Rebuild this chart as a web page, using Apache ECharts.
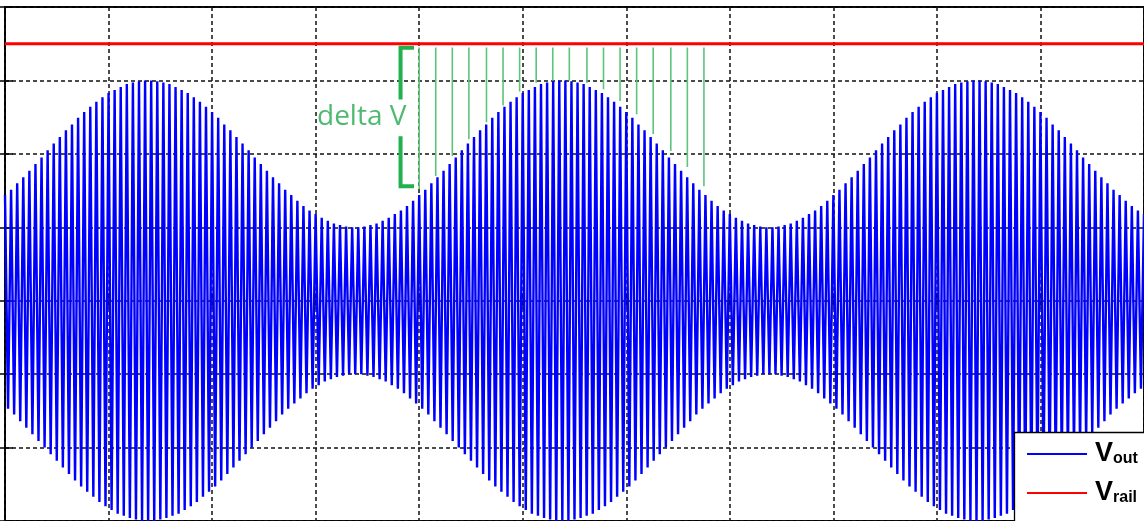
<!DOCTYPE html>
<html>
<head>
<meta charset="utf-8">
<script src="https://cdn.jsdelivr.net/npm/echarts@6/dist/echarts.min.js"></script>
<style>
html,body{margin:0;padding:0;background:#fff;}
#main{width:1144px;height:521px;}
</style>
</head>
<body>
<div id="main"></div>
<script>
// 采样步长 (横轴: 格)
var DT = 4 / 136;
// Vout 采样点 (纵轴: 格), 正负交替
var vout = [
 1.44,-1.47,1.51,-1.55,1.60,-1.64,1.68,-1.73,1.77,-1.82,1.86,-1.91,1.95,-2.00,2.05,-2.09,2.14,-2.18,2.23,-2.27,
 2.32,-2.36,2.40,-2.45,2.49,-2.53,2.57,-2.60,2.64,-2.67,2.71,-2.74,2.77,-2.80,2.83,-2.85,2.87,-2.90,2.91,-2.93,
 2.95,-2.96,2.97,-2.98,2.99,-3.00,3.00,-3.00,
 // 第1段
 3.00,-3.00,2.99,-2.98,2.97,-2.96,2.95,-2.93,2.91,-2.90,2.87,-2.85,2.83,-2.80,2.77,-2.74,2.71,-2.67,2.64,-2.60,
 2.57,-2.53,2.49,-2.45,2.40,-2.36,2.32,-2.27,2.23,-2.18,2.14,-2.09,2.05,-2.00,1.95,-1.91,1.86,-1.82,1.77,-1.73,
 1.68,-1.64,1.60,-1.55,1.51,-1.47,1.44,-1.40,1.36,-1.33,1.29,-1.26,1.23,-1.20,1.18,-1.15,1.13,-1.10,1.09,-1.07,
 1.05,-1.04,1.03,-1.02,1.01,-1.00,1.00,-1.00,
 1.00,-1.00,1.01,-1.02,1.03,-1.04,1.05,-1.07,1.09,-1.10,1.13,-1.15,1.18,-1.20,1.23,-1.26,1.29,-1.33,1.36,-1.40,
 1.44,-1.47,1.51,-1.55,1.60,-1.64,1.68,-1.73,1.77,-1.82,1.86,-1.91,1.95,-2.00,2.05,-2.09,2.14,-2.18,2.23,-2.27,
 2.32,-2.36,2.40,-2.45,2.49,-2.53,2.57,-2.60,2.64,-2.67,2.71,-2.74,2.77,-2.80,2.83,-2.85,2.87,-2.90,2.91,-2.93,
 2.95,-2.96,2.97,-2.98,2.99,-3.00,3.00,-3.00,
 // 第2段
 3.00,-3.00,2.99,-2.98,2.97,-2.96,2.95,-2.93,2.91,-2.90,2.87,-2.85,2.83,-2.80,2.77,-2.74,2.71,-2.67,2.64,-2.60,
 2.57,-2.53,2.49,-2.45,2.40,-2.36,2.32,-2.27,2.23,-2.18,2.14,-2.09,2.05,-2.00,1.95,-1.91,1.86,-1.82,1.77,-1.73,
 1.68,-1.64,1.60,-1.55,1.51,-1.47,1.44,-1.40,1.36,-1.33,1.29,-1.26,1.23,-1.20,1.18,-1.15,1.13,-1.10,1.09,-1.07,
 1.05,-1.04,1.03,-1.02,1.01,-1.00,1.00,-1.00,
 1.00,-1.00,1.01,-1.02,1.03,-1.04,1.05,-1.07,1.09,-1.10,1.13,-1.15,1.18,-1.20,1.23,-1.26,1.29,-1.33,1.36,-1.40,
 1.44,-1.47,1.51,-1.55,1.60,-1.64,1.68,-1.73,1.77,-1.82,1.86,-1.91,1.95,-2.00,2.05,-2.09,2.14,-2.18,2.23,-2.27,
 2.32,-2.36,2.40,-2.45,2.49,-2.53,2.57,-2.60,2.64,-2.67,2.71,-2.74,2.77,-2.80,2.83,-2.85,2.87,-2.90,2.91,-2.93,
 2.95,-2.96,2.97,-2.98,2.99,-3.00,3.00,-3.00,
 // 第3段
 3.00,-3.00,2.99,-2.98,2.97,-2.96,2.95,-2.93,2.91,-2.90,2.87,-2.85,2.83,-2.80,2.77,-2.74,2.71,-2.67,2.64,-2.60,
 2.57,-2.53,2.49,-2.45,2.40,-2.36,2.32,-2.27,2.23,-2.18,2.14,-2.09,2.05,-2.00,1.95,-1.91,1.86,-1.82,1.77,-1.73,
 1.68,-1.64,1.60,-1.55,1.51,-1.47,1.44,-1.40,1.36,-1.33,1.29,-1.26,1.23,-1.20,1.18
];
// 电源轨
var vrail = 3.5;
// 绿色 delta V 竖线
var greenX = [4.00,4.16,4.32,4.48,4.65,4.81,4.97,5.13,5.29,5.45,5.62,5.78,5.94,6.10,6.26,6.43,6.59,6.75];
var greenBot = [1.52,1.70,1.97,2.20,2.43,2.66,2.85,2.97,3.00,3.00,2.97,2.88,2.72,2.54,2.27,2.04,1.82,1.56];
var greenTop = 3.45;
// 括号
var bracket = [[3.95,3.445],[3.82,3.445],[3.82,2.74],[3.82,'-'],[3.82,2.24],[3.82,1.56],[3.95,1.56]];
var labelPos = [3.445, 2.5];

var X_MIN = 0, X_MAX = 11, Y_MIN = -3, Y_MAX = 4;

function buildVout(){
	var arr = [];
	for(var i=0;i<vout.length;i++){
		arr.push([i*DT, vout[i]]);
	}
	return arr;
}
function buildGreen(){
	var arr = [];
	for(var i=0;i<greenX.length;i++){
		arr.push([greenX[i], greenTop]);
		arr.push([greenX[i], greenBot[i]]);
		arr.push([greenX[i], '-']);
	}
	return arr;
}

var myChart = echarts.init(document.getElementById('main'));
var tickStyle = {show:true, inside:true, length:8, lineStyle:{color:'#000', width:1.5}};
var gridLine = {show:true, lineStyle:{color:'#111', width:1.5, type:[4,3]}};
var option = {
	animation:false,
	backgroundColor:'#fff',
	grid:{
		left:5, top:7, width:1146.2, height:516.6,
		show:true, borderColor:'#000', borderWidth:2, backgroundColor:'#fff'
	},
	xAxis:[
		{type:'value', min:X_MIN, max:X_MAX, interval:1, position:'bottom',
		 axisLine:{show:false}, axisTick:tickStyle, axisLabel:{show:false}, splitLine:gridLine},
		{type:'value', min:X_MIN, max:X_MAX, interval:1, position:'top',
		 axisLine:{show:false}, axisTick:tickStyle, axisLabel:{show:false}, splitLine:{show:false}}
	],
	yAxis:[
		{type:'value', min:Y_MIN, max:Y_MAX, interval:1, position:'left',
		 axisLine:{show:false}, axisTick:tickStyle, axisLabel:{show:false}, splitLine:gridLine},
		{type:'value', min:Y_MIN, max:Y_MAX, interval:1, position:'right',
		 axisLine:{show:false}, axisTick:tickStyle, axisLabel:{show:false}, splitLine:{show:false}}
	],
	// 图例外框
	graphic:[{
		type:'rect', z:10, silent:true,
		shape:{x:1014.5, y:432.5, width:140, height:100},
		style:{fill:'#fff', stroke:'#000', lineWidth:1.3}
	}],
	legend:{
		data:['Vout','Vrail'],
		orient:'vertical',
		left:1014, top:433, z:20,
		padding:[7,10,4,12],
		itemGap:12,
		itemWidth:60, itemHeight:14,
		itemStyle:{opacity:0},
		formatter:function(name){
			return name === 'Vout' ? '{v|V}{s|out}' : '{v|V}{s|rail}';
		},
		textStyle:{
			rich:{
				v:{fontFamily:'Liberation Sans, Arial', fontSize:27, fontWeight:'bold', color:'#000', lineHeight:26, verticalAlign:'bottom', padding:[0,0,0,3]},
				s:{fontFamily:'Liberation Sans, Arial', fontSize:16, fontWeight:'bold', color:'#000', lineHeight:15, verticalAlign:'bottom'}
			}
		}
	},
	series:[
		{
			name:'Vout', type:'line', data:buildVout(),
			showSymbol:false, symbol:'none', z:3,
			lineStyle:{color:'#0000ff', width:2.4}, itemStyle:{color:'#0000ff'}
		},
		{
			name:'Vrail', type:'line', data:[[X_MIN,vrail],[X_MAX,vrail]],
			showSymbol:false, symbol:'none', z:5,
			lineStyle:{color:'#ff0000', width:3}, itemStyle:{color:'#ff0000'}
		},
		{
			name:'deltaLines', type:'line', data:buildGreen(),
			showSymbol:false, symbol:'none', z:4, connectNulls:false,
			lineStyle:{color:'#5cc57c', width:1.6}
		},
		{
			name:'bracket', type:'line', data:bracket,
			showSymbol:false, symbol:'none', z:4, connectNulls:false,
			lineStyle:{color:'#22b14c', width:4, cap:'butt', join:'miter'}
		},
		{
			name:'deltaLabel', type:'scatter', data:[labelPos],
			symbolSize:1, itemStyle:{color:'rgba(0,0,0,0)'}, z:6,
			label:{show:true, position:'inside', formatter:'delta V',
				fontFamily:'Open Sans', fontSize:28, color:'#22a84c'}
		}
	]
};
myChart.setOption(option);
</script>
</body>
</html>
